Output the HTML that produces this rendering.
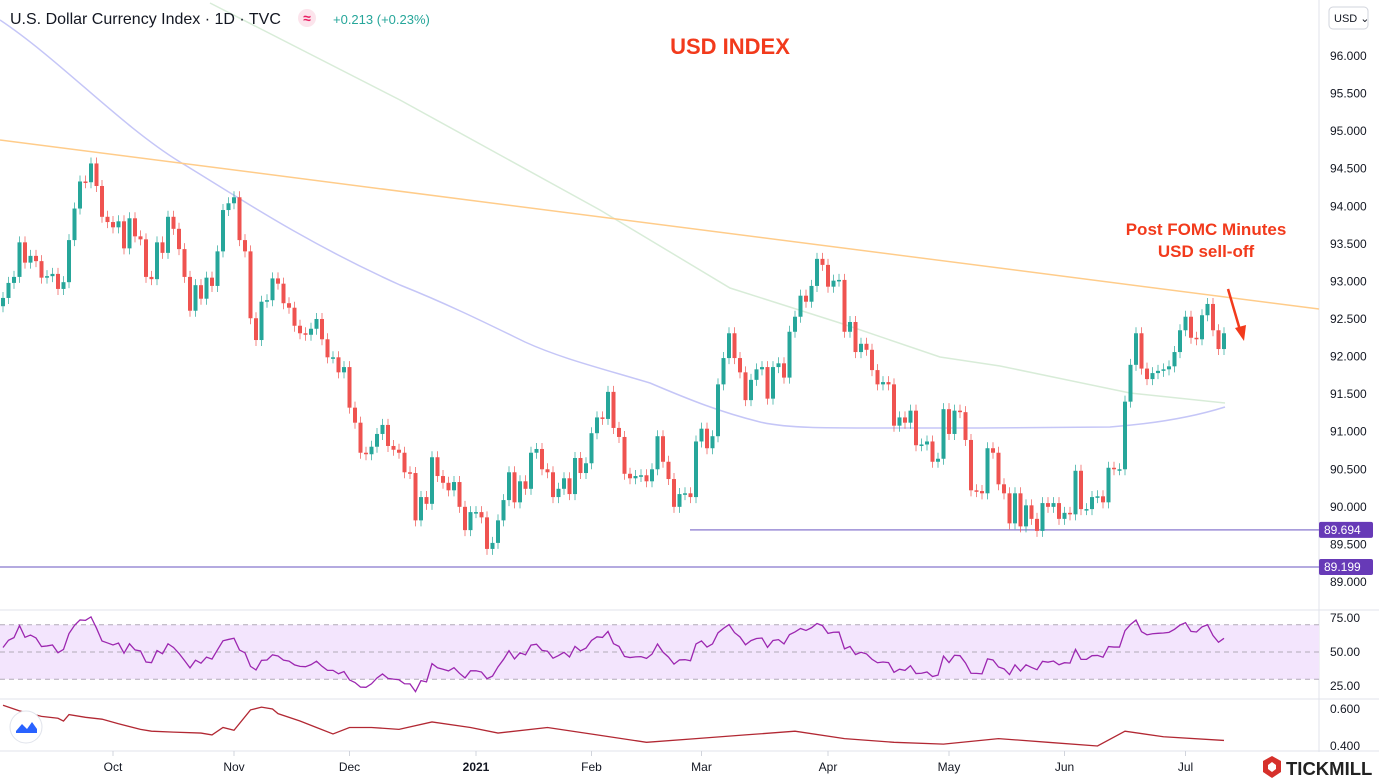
<!DOCTYPE html>
<html><head><meta charset="utf-8"><style>
body{margin:0;background:#fff;font-family:"Liberation Sans",sans-serif;}
svg{display:block}
</style></head><body>
<svg id="chart" width="1379" height="781" xmlns="http://www.w3.org/2000/svg">
<rect width="1379" height="781" fill="#fff"/>
<g id="bg"></g>
<g id="lines"></g>
<g id="candles"></g>
<g id="ind"></g>
<g id="axes"></g>
<text x="10" y="24" font-size="16" fill="#131722">U.S. Dollar Currency Index · 1D · TVC</text>
<circle cx="307" cy="18" r="9" fill="#fce4ec"/>
<text x="307" y="23" font-size="14" text-anchor="middle" fill="#e91e63" font-weight="bold">≈</text>
<text x="333" y="24" font-size="13" fill="#26a69a">+0.213 (+0.23%)</text>
<text x="730" y="54" font-size="22" font-weight="bold" fill="#f23a1c" text-anchor="middle">USD INDEX</text>
<text x="1206" y="235" font-size="17" font-weight="bold" fill="#f23a1c" text-anchor="middle">Post FOMC Minutes</text>
<text x="1206" y="257" font-size="17" font-weight="bold" fill="#f23a1c" text-anchor="middle">USD sell-off</text>
<g stroke="#f23a1c" stroke-width="2.5" fill="#f23a1c">
<line x1="1228" y1="289" x2="1240" y2="330"/>
<polygon points="1235,328 1244,341 1246,325" stroke="none"/></g>
<g><rect x="1329" y="7" width="39" height="22" rx="4" fill="#fff" stroke="#d1d4dc"/>
<text x="1334" y="22" font-size="11" fill="#131722">USD ⌄</text></g>
<g><circle cx="26" cy="727" r="16" fill="#fff" stroke="#e0e3eb"/>
<path d="M16,731 L22,724 L27,729 L32,722 L37,729 L37,733 L16,733Z" fill="#2962ff"/></g>
<g>
<polygon points="1272,756 1281,761 1281,772 1272,778 1263,772 1263,761" fill="#d6302b"/>
<polygon points="1272,762 1276,765 1276,769 1272,772 1268,769 1268,765" fill="#fff"/>
<text x="1286" y="775" font-size="18.5" font-weight="bold" fill="#222">TICKMILL</text></g>
</svg>
<script>
const closes=[92.78,92.98,93.06,93.52,93.25,93.34,93.27,93.05,93.07,93.10,92.90,92.99,93.55,93.97,94.33,94.32,94.57,94.27,93.86,93.79,93.72,93.80,93.44,93.84,93.60,93.56,93.06,93.03,93.52,93.38,93.86,93.70,93.43,93.06,92.61,92.95,92.77,93.05,92.94,93.40,93.95,94.04,94.12,93.55,93.40,92.51,92.22,92.73,92.75,93.04,92.97,92.71,92.65,92.41,92.31,92.29,92.37,92.50,92.23,91.99,91.99,91.79,91.86,91.32,91.12,90.72,90.70,90.80,90.97,91.09,90.81,90.76,90.72,90.46,90.45,89.82,90.13,90.04,90.66,90.41,90.32,90.22,90.33,90.00,89.69,89.93,89.93,89.86,89.44,89.52,89.82,90.09,90.46,90.06,90.34,90.24,90.72,90.77,90.50,90.46,90.13,90.24,90.38,90.17,90.65,90.45,90.58,90.98,91.19,91.17,91.53,91.05,90.93,90.44,90.38,90.41,90.42,90.34,90.50,90.94,90.60,90.37,90.00,90.17,90.18,90.13,90.87,91.04,90.78,90.94,91.63,91.98,92.31,91.98,91.79,91.42,91.69,91.83,91.86,91.44,91.86,91.91,91.72,92.33,92.53,92.81,92.73,92.94,93.30,93.22,92.93,93.01,93.02,92.33,92.46,92.06,92.17,92.09,91.82,91.63,91.66,91.63,91.08,91.19,91.12,91.28,90.82,90.83,90.87,90.60,90.64,91.30,90.97,91.28,91.26,90.89,90.22,90.21,90.18,90.78,90.72,90.30,90.18,89.78,90.18,89.74,90.02,89.84,89.68,90.05,90.00,90.05,89.84,89.92,89.90,90.48,89.97,89.97,90.13,90.14,90.06,90.52,90.50,90.50,91.40,91.89,92.31,91.84,91.70,91.78,91.81,91.83,91.87,92.06,92.35,92.53,92.25,92.23,92.55,92.70,92.35,92.10,92.31];
const firstOpen=92.67;
const priceTicks=[96,95.5,95,94.5,94,93.5,93,92.5,92,91.5,91,90.5,90,89.5,89];
const rsiTicks=[75,50,25];
const atrTicks=[0.6,0.4];
const atrIdx=[0,3,7,10,11,12,15,18,21,25,27,31,36,38,40,42,45,47,49,50,54,57,60,63,67,72,78,85,90,99,108,117,126,135,144,153,162,171,181,190,199,204,211,222];
const atrVals=[0.62,0.59,0.56,0.55,0.535,0.57,0.555,0.545,0.52,0.49,0.48,0.475,0.47,0.46,0.50,0.485,0.595,0.61,0.60,0.575,0.535,0.50,0.465,0.50,0.50,0.49,0.53,0.50,0.47,0.50,0.46,0.42,0.44,0.46,0.48,0.44,0.42,0.41,0.44,0.42,0.40,0.48,0.45,0.43];
const timeLabels=["Oct","Nov","Dec","2021","Feb","Mar","Apr","May","Jun","Jul"];
const timeIdx=[20,42,63,86,107,127,150,172,193,215];
const levels=[89.694,89.199];
const NS="http://www.w3.org/2000/svg";
const xOf=i=>3+5.5*i;
const yP=p=>56+(96-p)*75.14;
const yR=v=>652-(v-50)*1.36;
const yA=v=>746-(v-0.4)*185;
function mk(t,a,parent){const e=document.createElementNS(NS,t);for(const k in a)e.setAttribute(k,a[k]);document.getElementById(parent).appendChild(e);return e;}
let e;
e=mk('line',{x1:1319,y1:0,x2:1319,y2:752,stroke:'#e0e3eb'},'bg');


[610,699,751].forEach(y=>{e=mk('line',{x1:0,y1:y,x2:1379,y2:y,stroke:'#e0e3eb'},'bg');

});
e=mk('rect',{x:0,y:yR(70),width:1319,height:yR(30)-yR(70),fill:'#f3e5fd'},'bg');


[70,50,30].forEach(v=>{e=mk('line',{x1:0,y1:yR(v),x2:1319,y2:yR(v),stroke:'#b2aab8','stroke-dasharray':'5,4'},'bg');

});
e=mk('path',{d:'M0,20 C60,60 120,125 180,162 C230,192 300,240 400,285 C450,305 490,325 525,342 C560,358 600,368 650,383 C690,400 720,412 760,422 C790,429 820,428 980,428 L1110,427 C1150,424 1190,418 1225,407',fill:'none',stroke:'#c5c6f7','stroke-width':1.5},'lines');


e=mk('polyline',{points:'210,3 400,100 600,210 730,288 840,323 940,357 1000,366 1130,393 1225,403',fill:'none',stroke:'#d8ecd8','stroke-width':1.5},'lines');


e=mk('line',{x1:0,y1:140,x2:1319,y2:309,stroke:'#ffcc8a','stroke-width':1.5},'lines');


e=mk('line',{x1:0,y1:yP(levels[1]),x2:1319,y2:yP(levels[1]),stroke:'#9c8ed6','stroke-width':1.5},'lines');


e=mk('line',{x1:690,y1:yP(levels[0]),x2:1319,y2:yP(levels[0]),stroke:'#9c8ed6','stroke-width':1.5},'lines');


closes.forEach((c,i)=>{const o=i?closes[i-1]:firstOpen;const up=c>=o;const col=up?'#26a69a':'#ef5350';
const hi=Math.max(o,c)+0.08,lo=Math.min(o,c)-0.08;const x=xOf(i);
const g=mk('g',{},'candles');


const w=document.createElementNS(NS,'line');w.setAttribute('x1',x);w.setAttribute('x2',x);w.setAttribute('y1',yP(hi));w.setAttribute('y2',yP(lo));w.setAttribute('stroke',col);w.setAttribute('opacity','0.7');g.appendChild(w);
const r=document.createElementNS(NS,'rect');const yt=yP(Math.max(o,c));r.setAttribute('x',x-2);r.setAttribute('y',yt);r.setAttribute('width',4);r.setAttribute('height',Math.max(1.5,yP(Math.min(o,c))-yt));r.setAttribute('fill',col);g.appendChild(r);});
let ag=0,al=0,pts=[];const N=14;
closes.forEach((c,i)=>{const o=i?closes[i-1]:firstOpen;const d=c-o;const g=Math.max(d,0),l=Math.max(-d,0);
if(i===0){ag=0.06;al=0.06;}ag=(ag*(N-1)+g)/N;al=(al*(N-1)+l)/N;const rsi=100-100/(1+ag/(al||1e-6));pts.push(xOf(i)+','+yR(rsi));});
e=mk('polyline',{points:pts.join(' '),fill:'none',stroke:'#9c27b0','stroke-width':1.3},'ind');


e=mk('polyline',{points:atrIdx.map((k,j)=>xOf(k)+','+yA(atrVals[j])).join(' '),fill:'none',stroke:'#b22833','stroke-width':1.3},'ind');


priceTicks.forEach(p=>{e=mk('text',{x:1330,y:yP(p)+4,'font-size':12,fill:'#131722'},'axes');e.textContent=p.toFixed(3);

});
rsiTicks.forEach(v=>{e=mk('text',{x:1330,y:yR(v)+4,'font-size':12,fill:'#131722'},'axes');e.textContent=v.toFixed(2);

});
atrTicks.forEach(v=>{e=mk('text',{x:1330,y:yA(v)+4,'font-size':12,fill:'#131722'},'axes');e.textContent=v.toFixed(3);

});
levels.forEach(p=>{e=mk('rect',{x:1319,y:yP(p)-8,width:54,height:16,rx:2,fill:'#673ab7'},'axes');


e=mk('text',{x:1324,y:yP(p)+4,'font-size':12,fill:'#fff'},'axes');e.textContent=p.toFixed(3);

});
timeLabels.forEach((t,j)=>{const x=xOf(timeIdx[j]);
e=mk('line',{x1:x,y1:751,x2:x,y2:756,stroke:'#d1d4dc'},'axes');


e=mk('text',{x:x,y:771,'font-size':12,'text-anchor':'middle',fill:'#131722','font-weight':t==='2021'?'bold':'normal'},'axes');e.textContent=t;

});
</script>
</body></html>
